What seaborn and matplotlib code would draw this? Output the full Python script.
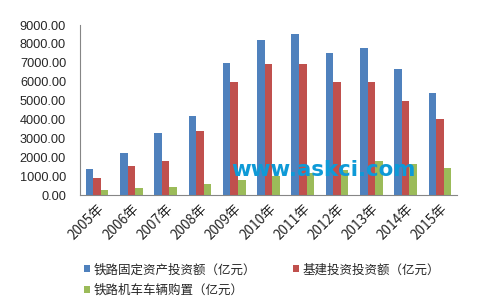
import matplotlib
matplotlib.use("Agg")
import matplotlib.pyplot as plt
import seaborn as sns
import pandas as pd

years = ["2005年", "2006年", "2007年", "2008年", "2009年", "2010年",
         "2011年", "2012年", "2013年", "2014年", "2015年"]
series_names = ["铁路固定资产投资额（亿元）", "基建投资投资额（亿元）", "铁路机车车辆购置（亿元）"]
fixed_asset = [1363, 2250, 3300, 4160, 7000, 8200, 8500, 7500, 7780, 6650, 5400]
infrastructure = [900, 1534, 1800, 3375, 6000, 6950, 6950, 6000, 6000, 5000, 4000]
rolling_stock = [265, 370, 423, 600, 790, 1020, 1150, 1300, 1800, 1650, 1450]
colors = ["#4F81BD", "#C0504D", "#9BBB59"]

df = pd.DataFrame({
    "year": years * 3,
    "series": sum([[s] * len(years) for s in series_names], []),
    "value": fixed_asset + infrastructure + rolling_stock,
})

sns.set_style("white")
plt.rcParams['font.family'] = ['Noto Sans CJK SC', 'DejaVu Sans']

fig = plt.figure(figsize=(4.89, 3.04), dpi=100)
ax = fig.add_axes([80 / 489, 1 - 195 / 304, (457 - 80) / 489, (195 - 25) / 304])

sns.barplot(data=df, x="year", y="value", hue="series", hue_order=series_names,
            palette=colors, width=0.66, ax=ax, saturation=1, errorbar=None,
            linewidth=0, legend=True)

ax.set_ylim(0, 9000)
ax.set_yticks(range(0, 9001, 1000))
ax.set_yticklabels([f"{v:.2f}" for v in range(0, 9001, 1000)], fontsize=9.2,
                   family=['Liberation Sans', 'DejaVu Sans'])
ax.set_xlim(-0.5, len(years) - 0.5)
ax.set_xticks([i for i in range(len(years))])
ax.set_xticklabels(years, rotation=45, ha="right", rotation_mode="anchor", fontsize=9.8)
ax.tick_params(axis="x", length=0, pad=5)
ax.set_xticks([i - 0.5 for i in range(len(years) + 1)], minor=True)
ax.tick_params(axis="x", which="minor", length=4, color="#868686", direction="out")
ax.tick_params(axis="y", length=4, color="#868686", direction="out", pad=6)
ax.set_xlabel("")
ax.set_ylabel("")
for side in ["top", "right"]:
    ax.spines[side].set_visible(False)
for side in ["left", "bottom"]:
    ax.spines[side].set_color("#868686")
    ax.spines[side].set_linewidth(0.8)

ax.text(0.646, (195 - 176) / 170, "www.askci.com", transform=ax.transAxes,
        ha="center", va="baseline", fontsize=15.4, fontweight="bold", color="#0E9AD7",
        family=['DejaVu Sans'], zorder=5)

handles, labels = ax.get_legend_handles_labels()
order = [0, 2, 1]
ax.legend([handles[i] for i in order], [labels[i] for i in order],
          loc="center left", bbox_to_anchor=(4 / 377, -(280 - 195) / 170), ncol=2,
          frameon=False, fontsize=9.0, handlelength=0.5, handleheight=0.5,
          handletextpad=0.3, columnspacing=2.9, labelspacing=0.6, borderaxespad=0,
          borderpad=0)

fig.savefig("out.png", dpi=100)
